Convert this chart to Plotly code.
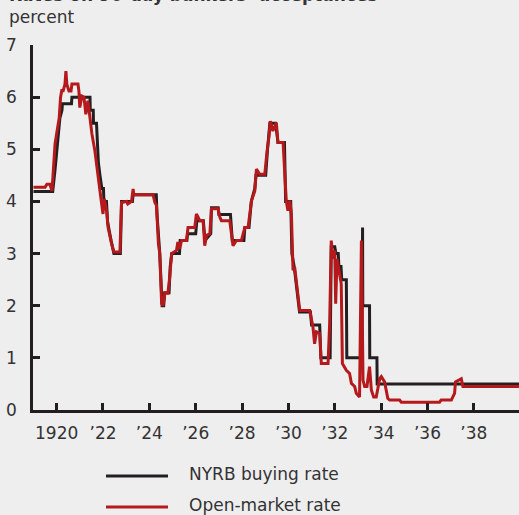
import plotly.graph_objects as go

# ---- data ----
nyrb_year = [1919.0, 1919.83, 1919.93, 1920.05, 1920.14, 1920.23, 1920.25, 1920.64, 1920.66, 1921.44,
             1921.45, 1921.58, 1921.59, 1921.72, 1921.8, 1921.87, 1921.95, 1922.02, 1922.04, 1922.15,
             1922.2, 1922.35, 1922.47, 1922.75, 1922.8, 1923.27, 1923.3, 1924.3, 1924.33, 1924.45,
             1924.55, 1924.62, 1924.66, 1924.85, 1924.9, 1924.97, 1925.3, 1925.33, 1925.62, 1925.65,
             1926.0, 1926.05, 1926.33, 1926.4, 1926.65, 1926.68, 1926.97, 1927.0, 1927.5, 1927.58,
             1928.08, 1928.12, 1928.3, 1928.4, 1928.55, 1928.6, 1929.02, 1929.1, 1929.2, 1929.45,
             1929.5, 1929.55, 1929.83, 1929.88, 1930.1, 1930.15, 1930.25, 1930.4, 1930.48, 1930.95,
             1931.0, 1931.35, 1931.4, 1931.8, 1931.85, 1932.0, 1932.05, 1932.15, 1932.18, 1932.27,
             1932.3, 1932.5, 1932.52, 1933.17, 1933.18, 1933.2, 1933.21, 1933.5, 1933.51, 1933.82,
             1933.83, 1940.0]
nyrb_rate = [4.19, 4.19, 4.6, 5.23, 5.6, 5.75, 5.875, 5.875, 6.0, 6.0,
             5.75, 5.75, 5.5, 5.5, 4.75, 4.5, 4.25, 4.25, 4.0, 4.0,
             3.6, 3.25, 3.0, 3.0, 4.0, 4.0, 4.13, 4.13, 3.75, 3.0,
             2.0, 2.0, 2.25, 2.25, 2.75, 3.0, 3.0, 3.25, 3.25, 3.38,
             3.38, 3.63, 3.63, 3.25, 3.38, 3.88, 3.88, 3.75, 3.75, 3.25,
             3.25, 3.5, 3.5, 4.0, 4.25, 4.5, 4.5, 5.0, 5.5, 5.5,
             5.25, 5.13, 5.13, 4.0, 4.0, 3.0, 2.75, 2.25, 1.88, 1.88,
             1.63, 1.63, 1.0, 1.0, 3.13, 3.13, 3.0, 3.0, 2.75, 2.75,
             2.5, 2.5, 1.0, 1.0, 3.5, 3.5, 2.0, 2.0, 1.0, 1.0,
             0.5, 0.5]

open_year = [1919.0, 1919.5, 1919.58, 1919.71, 1919.8, 1919.93, 1920.0, 1920.11, 1920.17, 1920.23,
             1920.27, 1920.36, 1920.4, 1920.44, 1920.53, 1920.62, 1920.66, 1920.92, 1920.96, 1921.0,
             1921.09, 1921.18, 1921.26, 1921.35, 1921.44, 1921.52, 1921.65, 1921.74, 1921.87, 1922.0,
             1922.06, 1922.16, 1922.22, 1922.37, 1922.47, 1922.73, 1922.8, 1923.02, 1923.07, 1923.23,
             1923.3, 1923.33, 1924.16, 1924.24, 1924.31, 1924.39, 1924.45, 1924.53, 1924.59, 1924.67,
             1924.8, 1924.88, 1924.96, 1925.17, 1925.23, 1925.31, 1925.39, 1925.6, 1925.67, 1925.96,
             1926.03, 1926.18, 1926.32, 1926.39, 1926.47, 1926.61, 1926.68, 1926.97, 1927.04, 1927.11,
             1927.47, 1927.61, 1927.76, 1927.97, 1928.12, 1928.26, 1928.41, 1928.55, 1928.62, 1928.76,
             1928.98, 1929.08, 1929.16, 1929.22, 1929.33, 1929.48, 1929.55, 1929.77, 1929.91, 1929.98,
             1930.06, 1930.13, 1930.2, 1930.27, 1930.41, 1930.49, 1930.92, 1931.06, 1931.13, 1931.21,
             1931.35, 1931.42, 1931.71, 1931.78, 1931.85, 1931.92, 1932.0, 1932.04, 1932.1, 1932.21,
             1932.28, 1932.33, 1932.5, 1932.64, 1932.72, 1932.86, 1932.93, 1933.07, 1933.15, 1933.22,
             1933.29, 1933.39, 1933.5, 1933.58, 1933.68, 1933.79, 1933.94, 1934.01, 1934.15, 1934.29,
             1934.37, 1934.8, 1934.87, 1936.52, 1936.59, 1937.03, 1937.17, 1937.21, 1937.31, 1937.46,
             1937.53, 1940.0]
open_rate = [4.27, 4.27, 4.33, 4.33, 4.2, 5.1, 5.3, 5.6, 6.0, 6.15,
             6.1, 6.25, 6.5, 6.25, 6.12, 6.12, 6.25, 6.25, 6.12, 5.8,
             6.02, 6.0, 5.67, 5.93, 5.6, 5.3, 4.97, 4.6, 4.2, 3.76,
             4.05, 3.8, 3.5, 3.19, 3.03, 3.03, 3.98, 4.0, 3.95, 4.0,
             4.24, 4.13, 4.13, 3.98, 3.92, 3.2, 3.0, 2.04, 2.0, 2.24,
             2.24, 2.55, 3.0, 3.06, 3.22, 3.09, 3.25, 3.25, 3.5, 3.5,
             3.76, 3.63, 3.63, 3.15, 3.35, 3.38, 3.86, 3.86, 3.7, 3.63,
             3.63, 3.15, 3.25, 3.25, 3.5, 3.5, 4.02, 4.2, 4.62, 4.52,
             4.52, 4.97, 5.23, 5.54, 5.35, 5.51, 5.13, 5.13, 4.0, 3.82,
             4.02, 3.76, 2.68, 2.74, 2.17, 1.91, 1.91, 1.59, 1.27, 1.5,
             1.47, 0.89, 0.89, 1.66, 3.25, 2.9, 3.06, 2.04, 2.9, 2.55,
             2.42, 0.89, 0.76, 0.7, 0.51, 0.45, 0.32, 0.25, 3.25, 0.57,
             0.45, 0.45, 0.83, 0.38, 0.25, 0.25, 0.6, 0.64, 0.54, 0.22,
             0.19, 0.19, 0.15, 0.15, 0.19, 0.19, 0.32, 0.54, 0.57, 0.6,
             0.45, 0.45]

tick_years = [1920, 1922, 1924, 1926, 1928, 1930, 1932, 1934, 1936, 1938]
tick_labels = ["1920", "\u201922", "\u201924", "\u201926", "\u201928", "\u201930", "\u201932",
               "\u201934", "\u201936", "\u201938"]
y_ticks = [0, 1, 2, 3, 4, 5, 6, 7]
series_names = ["NYRB buying rate", "Open-market rate"]

BLACK = "#231f20"
RED = "#b5191b"
BG = "#eeeeee"
TXT = "#333333"
FONT = "DejaVu Sans"

fig = go.Figure()
fig.add_trace(go.Scatter(x=nyrb_year, y=nyrb_rate, mode="lines", name=series_names[0],
                         line=dict(color=BLACK, width=3), showlegend=False))
fig.add_trace(go.Scatter(x=open_year, y=open_rate, mode="lines", name=series_names[1],
                         line=dict(color=RED, width=3), showlegend=False))

W, H = 519, 515
ml, mr, mt, mb = 33, 0, 45, 105
pw, ph = W - ml - mr, H - mt - mb

def px_x(x):
    return (x - ml) / pw

def px_y(y):
    return (H - mb - y) / ph

fig.update_layout(
    width=W, height=H,
    margin=dict(l=ml, r=mr, t=mt, b=mb, pad=0),
    paper_bgcolor=BG, plot_bgcolor=BG,
    font=dict(family=FONT, size=17, color=TXT),
    showlegend=False,
    xaxis=dict(range=[1918.98, 1939.95], tickvals=tick_years, ticktext=tick_labels,
               ticks="inside", ticklen=7, tickwidth=2.5, tickcolor=BLACK,
               showline=True, linecolor=BLACK, linewidth=2.5, showgrid=False, zeroline=False,
               tickfont=dict(size=17, color=TXT, family=FONT), ticklabelstandoff=6),
    yaxis=dict(range=[0, 7], tickvals=y_ticks,
               ticks="inside", ticklen=7, tickwidth=2.5, tickcolor=BLACK,
               showline=True, linecolor=BLACK, linewidth=2.5, showgrid=False, zeroline=False,
               tickfont=dict(size=17, color=TXT, family=FONT), ticklabelstandoff=10),
)

# axis unit label and (cropped) title
fig.add_annotation(text="percent", xref="paper", yref="paper", x=px_x(7), y=px_y(17),
                   xanchor="left", yanchor="middle", showarrow=False,
                   font=dict(size=17, color=TXT, family=FONT))
fig.add_annotation(text="<b>Rates on 90-day bankers\u2019 acceptances</b>", xref="paper", yref="paper",
                   x=px_x(7), y=px_y(-5), xanchor="left", yanchor="middle", showarrow=False,
                   font=dict(size=17, color=TXT, family=FONT))

# legend drawn below the plot
for name, col, yy in [(series_names[0], BLACK, 476), (series_names[1], RED, 507)]:
    fig.add_shape(type="line", xref="paper", yref="paper", x0=px_x(106), x1=px_x(168),
                  y0=px_y(yy), y1=px_y(yy), line=dict(color=col, width=3))
    fig.add_annotation(text=name, xref="paper", yref="paper", x=px_x(187), y=px_y(yy - 2),
                       xanchor="left", yanchor="middle", showarrow=False,
                       font=dict(size=17, color=TXT, family=FONT))

fig.write_html("out.html", config={"displayModeBar": False},
               post_script="document.body.style.margin='0';document.body.style.background='#eeeeee';")
